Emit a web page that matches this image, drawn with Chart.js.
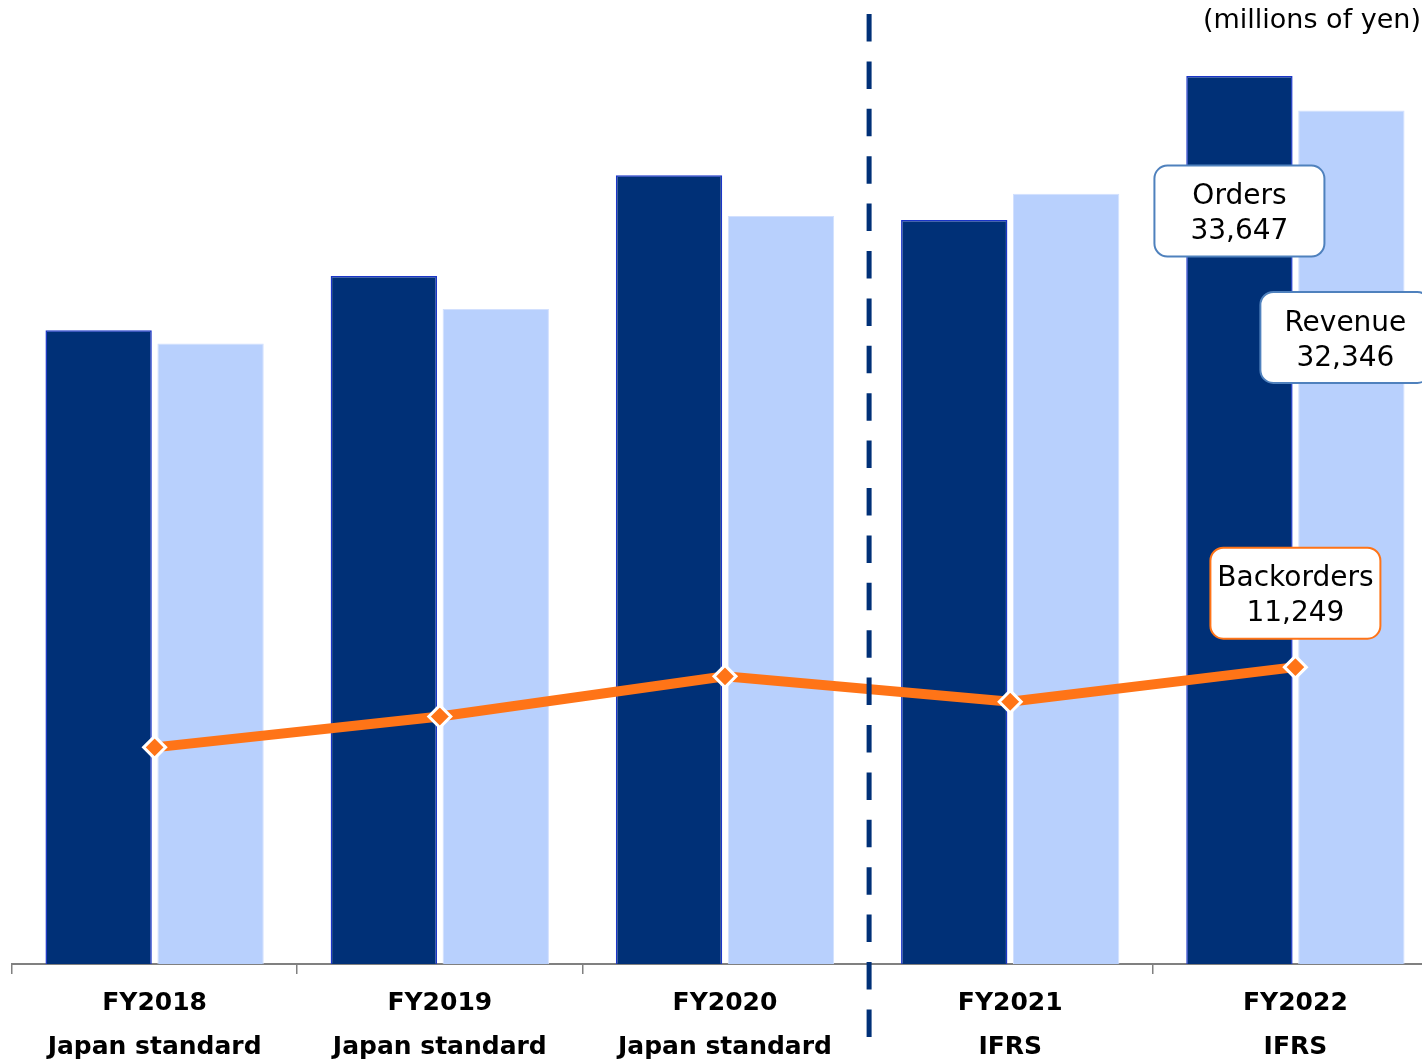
<!DOCTYPE html>
<html>
<head>
<meta charset="utf-8">
<script src="https://cdn.jsdelivr.net/npm/chart.js@4"></script>
<style>
  html, body { margin: 0; padding: 0; background: #fff; overflow: hidden; }
  #wrap { width: 1454px; height: 1059px; margin-left: -2px; }
</style>
</head>
<body>
<div id="wrap"><canvas id="ordersChart" width="1454" height="1059"></canvas></div>
<script>
// values (millions of yen)
var fiscalYears = ['FY2018', 'FY2019', 'FY2020', 'FY2021', 'FY2022'];
var standards = ['Japan standard', 'Japan standard', 'Japan standard', 'IFRS', 'IFRS'];
var orders = [24020, 26070, 29890, 28190, 33647];
var revenue = [23510, 24820, 28350, 29190, 32346];
var backorders = [8210, 9380, 10900, 9940, 11249];

var navy = '#003077';
var lightBlue = '#B8D0FD';
var orange = '#FF7417';
var textFont = '"DejaVu Sans", Verdana, sans-serif';

var labels = fiscalYears.map(function (fy, i) { return [fy, standards[i]]; });

function fmt(v) { return v.toLocaleString('en-US'); }

function callout(ctx, cx, cy, lines, border) {
  var w = 170, h = 91;
  ctx.save();
  ctx.beginPath();
  ctx.roundRect(cx - w / 2, cy - h / 2, w, h, 13);
  ctx.fillStyle = '#ffffff';
  ctx.fill();
  ctx.lineWidth = 2;
  ctx.strokeStyle = border;
  ctx.stroke();
  ctx.fillStyle = '#000000';
  ctx.font = '28px ' + textFont;
  ctx.textAlign = 'center';
  ctx.textBaseline = 'middle';
  ctx.fillText(lines[0], cx, cy - 14);
  ctx.fillText(lines[1], cx, cy + 21);
  ctx.restore();
}

var extrasPlugin = {
  id: 'extras',
  afterDatasetsDraw: function (chart) {
    var ctx = chart.ctx;
    var x = chart.scales.x;

    // dashed divider between Japan standard and IFRS years
    var divX = (x.getPixelForValue(2) + x.getPixelForValue(3)) / 2 + 1.5;
    ctx.save();
    ctx.strokeStyle = navy;
    ctx.lineWidth = 5;
    ctx.setLineDash([27.5, 19.9]);
    ctx.beginPath();
    ctx.moveTo(divX, 14);
    ctx.lineTo(divX, 1040);
    ctx.stroke();
    ctx.restore();

    var last = fiscalYears.length - 1;
    var ordBar = chart.getDatasetMeta(0).data[last];
    var revBar = chart.getDatasetMeta(1).data[last];
    var backPt = chart.getDatasetMeta(2).data[last];

    callout(ctx, ordBar.x, ordBar.y + 135, ['Orders', fmt(orders[last])], '#4F81BD');
    callout(ctx, revBar.x - 6, revBar.y + 227, ['Revenue', fmt(revenue[last])], '#4F81BD');
    callout(ctx, backPt.x, backPt.y - 74, ['Backorders', fmt(backorders[last])], orange);

    // unit note
    ctx.save();
    ctx.fillStyle = '#000000';
    ctx.font = '27px ' + textFont;
    ctx.textAlign = 'left';
    ctx.textBaseline = 'middle';
    ctx.fillText('(millions of yen)', 1205, 21);
    ctx.restore();
  }
};

var ctx = document.getElementById('ordersChart').getContext('2d');
var chart = new Chart(ctx, {
  type: 'bar',
  data: {
    labels: labels,
    datasets: [{
      label: 'Orders',
      data: orders,
      backgroundColor: navy,
      borderColor: '#1a35c8',
      borderWidth: 1.5,
      barPercentage: 0.95,
      categoryPercentage: 0.785,
      order: 2
    }, {
      label: 'Revenue',
      data: revenue,
      backgroundColor: lightBlue,
      borderColor: '#d2e0fe',
      borderWidth: 1,
      barPercentage: 0.95,
      categoryPercentage: 0.785,
      order: 2
    }, {
      type: 'line',
      label: 'Backorders',
      data: backorders,
      borderColor: orange,
      borderWidth: 10,
      pointStyle: 'rectRot',
      pointRadius: 11,
      pointBackgroundColor: orange,
      pointBorderColor: '#ffffff',
      pointBorderWidth: 3,
      tension: 0,
      order: 1
    }]
  },
  options: {
    responsive: false,
    animation: false,
    layout: { padding: { top: 13, left: 8, right: 3, bottom: 0 } },
    plugins: {
      legend: { display: false },
      tooltip: { enabled: false }
    },
    scales: {
      x: {
        grid: {
          display: true,
          drawOnChartArea: false,
          drawTicks: true,
          tickLength: 10,
          color: '#808080',
          lineWidth: 1.5
        },
        border: { display: true, color: '#808080', width: 2 },
        ticks: {
          color: '#000000',
          padding: 7,
          maxRotation: 0,
          autoSkip: false,
          font: { family: textFont, size: 25, weight: 'bold', lineHeight: '44px' }
        },
        afterFit: function (scale) { scale.height = 95; }
      },
      y: {
        display: false,
        min: 0,
        max: 36000
      }
    }
  },
  plugins: [extrasPlugin]
});
</script>
</body>
</html>
